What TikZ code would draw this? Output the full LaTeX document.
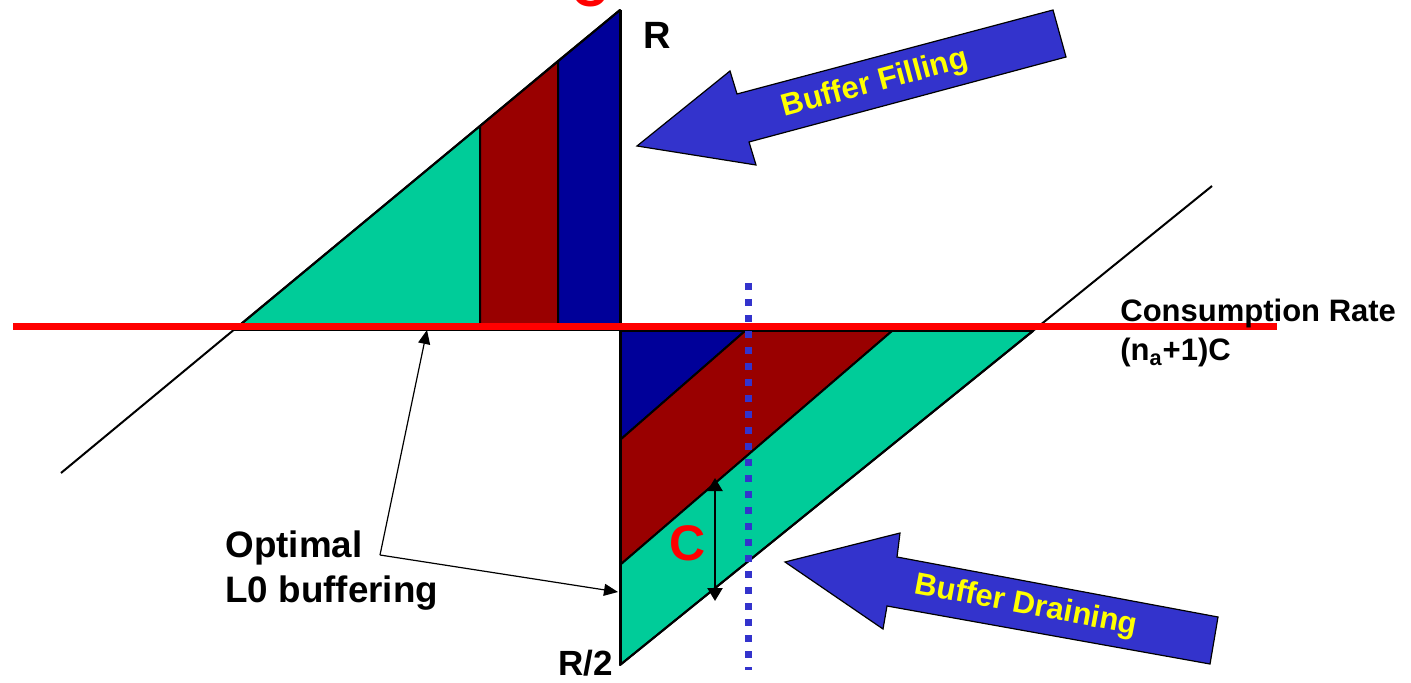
\documentclass[tikz,border=0pt]{standalone}
\usepackage{fontspec}
\setmainfont{Liberation Sans}
\usetikzlibrary{arrows.meta}
\definecolor{bandgreen}{RGB}{0,204,153}
\definecolor{bandred}{RGB}{153,0,0}
\definecolor{bandblue}{RGB}{0,0,153}
\definecolor{arrowblue}{RGB}{51,51,204}
\definecolor{rateline}{RGB}{255,0,0}
\definecolor{labelyellow}{RGB}{255,255,0}

\begin{document}
\begin{tikzpicture}[x=0.5pt,y=-0.5pt,font=\bfseries,
  band/.style={draw=black,line width=1pt,line join=round},
  bigarrow/.style={draw=black,line width=0.6pt,fill=arrowblue,line join=miter},
  tag/.style={inner sep=0pt}]
  \useasboundingbox (0,0) rectangle (1411,683);
  % buffer filling side (above the rate line)
  \filldraw[band,fill=bandgreen] (234,330) -- (480,126) -- (480,330) -- cycle;
  \filldraw[band,fill=bandred]   (480,126) -- (558,61) -- (558,330) -- (480,330) -- cycle;
  \filldraw[band,fill=bandblue]  (558,61) -- (620,10) -- (620,330) -- (558,330) -- cycle;
  % buffer draining side (below the rate line)
  \filldraw[band,fill=bandblue]  (620,331) -- (745,331) -- (620,440) -- cycle;
  \filldraw[band,fill=bandred]   (745,331) -- (892,331) -- (620,565) -- (620,440) -- cycle;
  \filldraw[band,fill=bandgreen] (892,331) -- (1033,331) -- (620,665) -- (620,565) -- cycle;
  \draw[line width=1pt] (61,473) -- (620,10);
  \draw[line width=1pt] (620,665) -- (1212,186);
  \draw[line width=1.5pt] (620,10) -- (620,665);
  % consumption rate
  \draw[rateline,line width=3.5pt] (13,326.5) -- (1277,326.5);
  \draw[arrowblue,line width=3.5pt,dash pattern=on 3.5pt off 4.5pt] (748,283) -- (748,670);

  \node[tag,anchor=base west,font=\bfseries\fontsize{19}{22}\selectfont] (rtop) at (643,49) {R};
  \node[tag,anchor=base west,font=\bfseries\fontsize{17.5}{20}\selectfont] (rhalf) at (558,675) {R/2};
  \node[tag,anchor=base,text=rateline,font=\bfseries\fontsize{25}{30}\selectfont] (ctoplbl) at (590,7) {C};
  \node[tag,anchor=base west,font=\bfseries\fontsize{15.5}{19}\selectfont] (rate) at (1120,322) {Consumption Rate};
  \node[tag,anchor=base west,font=\bfseries\fontsize{15.5}{19}\selectfont] (ratec) at (1120,361) {(n\textsubscript{a}+1)C};

  % big arrows
  \filldraw[bigarrow] (637,146) -- (730,71) -- (737,94) -- (1053,10) -- (1066,57)
    -- (749,142) -- (756,165) -- cycle;
  \node[tag,text=labelyellow,rotate=15,font=\bfseries\fontsize{15.5}{19}\selectfont] (fill) at (875,84) {Buffer Filling};
  \filldraw[bigarrow] (785,562) -- (900,533) -- (897,557) -- (1218,617) -- (1210,664)
    -- (887,606) -- (883,629) -- cycle;
  \node[tag,text=labelyellow,rotate=-10.6,font=\bfseries\fontsize{15.5}{19}\selectfont] (drain) at (1026,606) {Buffer Draining};

  % optimal L0 buffering
  \node[tag,anchor=west,align=left,font=\bfseries\fontsize{18.4}{22.5}\selectfont] (optimal) at (225,571) {Optimal\\L0 buffering};
  \coordinate (bend) at (380,555);
  \coordinate (onrate) at (427,330);
  \coordinate (onaxis) at (618,592);
  \draw[line width=0.6pt,-{Triangle[length=7pt,width=6pt]}] (bend) -- (onrate);
  \draw[line width=0.6pt,-{Triangle[length=7pt,width=6pt]}] (bend) -- (onaxis);

  % step C
  \coordinate (ctop) at (715,478);
  \coordinate (cbot) at (715,601);
  \draw[line width=1.2pt,{Triangle[length=6.5pt,width=7.5pt]}-{Triangle[length=6.5pt,width=7.5pt]}] (cbot) -- (ctop);
  \node[tag,text=rateline,font=\bfseries\fontsize{25}{30}\selectfont] (cstep) at (688,543) {C};
\end{tikzpicture}
\end{document}
